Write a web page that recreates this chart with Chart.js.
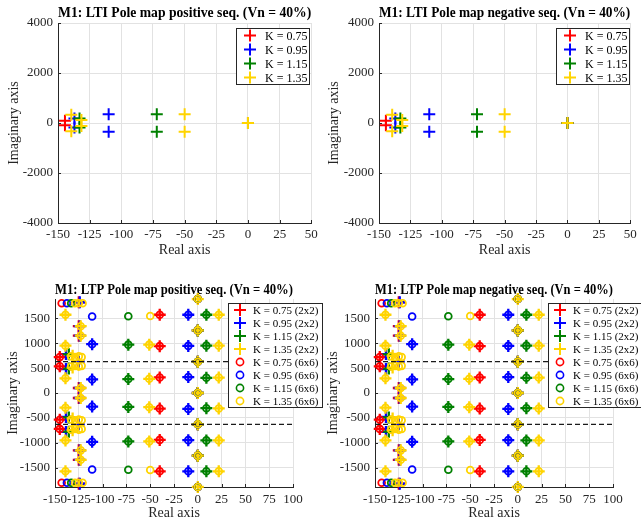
<!DOCTYPE html>
<html>
<head>
<meta charset="utf-8">
<script src="https://cdn.jsdelivr.net/npm/chart.js@4.4.1/dist/chart.umd.min.js"></script>
<style>
  html, body { margin: 0; padding: 0; background: #fff; }
  body { width: 641px; height: 522px; position: relative; overflow: hidden; }
  canvas { position: absolute; }
</style>
</head>
<body>
<canvas id="ltiPos" style="left:0;top:0" width="322" height="260"></canvas>
<canvas id="ltiNeg" style="left:320px;top:0" width="321" height="260"></canvas>
<canvas id="ltpPos" style="left:0;top:262px" width="330" height="260"></canvas>
<canvas id="ltpNeg" style="left:320px;top:262px" width="321" height="260"></canvas>
<script>
// gains and marker colours
const gains = ['0.75', '0.95', '1.15', '1.35'];
const gainColors = ['#ff0000', '#0000ff', '#008000', '#ffd400'];

// axis ticks
const ltiXTicks = [-150, -125, -100, -75, -50, -25, 0, 25, 50];
const ltiYTicks = [-4000, -2000, 0, 2000, 4000];
const ltpXTicks = [-150, -125, -100, -75, -50, -25, 0, 25, 50, 75, 100];
const ltpYTicks = [-1500, -1000, -500, 0, 500, 1000, 1500];

// LTI poles [real, imag] per gain
const ltiK075 = [[-144.5, 90], [-144.5, -90], [0, 0]];
const ltiK095 = [[-137, 180], [-137, -180], [-110, 350], [-110, -350], [0, 0]];
const ltiK115 = [[-133, 180], [-133, -180], [-72, 350], [-72, -350], [0, 0]];
const ltiK135 = [[-139.5, 330], [-139.5, -330], [-131.5, 120], [-131.5, -120],
                 [-50, 350], [-50, -350], [0, 0]];

// LTP poles, 2x2 harmonic model
const ltp2K075 = [
  [-145, 720], [-145, 535], [-145, -535], [-145, -720],
  [-125, 1820], [-125, 1340], [-125, 1150], [-126, 628], [-125, 100],
  [-125, -100], [-126, -628], [-125, -1150], [-125, -1340], [-125, -1820],
  [-40, 1570], [-40, 940], [-40, 312], [-40, -312], [-40, -940], [-40, -1570],
  [0, 1256], [0, 628], [0, 0], [0, -628], [0, -1256]
];
const ltp2K095 = [
  [-138.5, 780], [-138.5, 480], [-138.5, -480], [-138.5, -780],
  [-124, 1820], [-124, 1340], [-124, 1150], [-125, 628], [-124, 100],
  [-124, -100], [-125, -628], [-124, -1150], [-124, -1340], [-124, -1820],
  [-111, 980], [-111, 272], [-111, -272], [-111, -980],
  [-10, 1570], [-10, 945], [-10, 320], [-10, -320], [-10, -945], [-10, -1570],
  [0, 1256], [0, 628], [0, 0], [0, -628], [0, -1256]
];
const ltp2K115 = [
  [-135.5, 775], [-135.5, 490], [-135.5, -490], [-135.5, -775],
  [-73, 970], [-73, 280], [-73, -280], [-73, -970],
  [9, 1570], [9, 950], [9, 305], [9, -305], [9, -950], [9, -1570],
  [0, 1256], [0, 628], [0, 0], [0, -628], [0, -1256]
];
const ltp2K135 = [
  [-139, 1570], [-139, 950], [-139, 295], [-139, -295], [-139, -950], [-139, -1570],
  [-131.5, 745], [-131.5, 510], [-131.5, -510], [-131.5, -745],
  [-123, 1340], [-123, 1150], [-123, 100], [-123, -100], [-123, -1150], [-123, -1340],
  [-51, 970], [-51, 285], [-51, -285], [-51, -970],
  [22, 1570], [22, 950], [22, 310], [22, -310], [22, -950], [22, -1570],
  [0, 1884], [0, 1256], [0, 628], [0, 0], [0, -628], [0, -1256], [0, -1884]
];

// LTP poles, 6x6 harmonic model
const ltp6K075 = [
  [-143, 1800], [-143, -1800],
  [-145, 720], [-145, 535], [-145, -535], [-145, -720],
  [-40, 1570], [-40, 940], [-40, 312], [-40, -312], [-40, -940], [-40, -1570],
  [0, 1884], [0, 1256], [0, 628], [0, 0], [0, -628], [0, -1256], [0, -1884]
];
const ltp6K095 = [
  [-137.5, 1800], [-137.5, -1800],
  [-111, 1535], [-111, 980], [-111, 272], [-111, -272], [-111, -980], [-111, -1535],
  [-10, 1570], [-10, 945], [-10, 320], [-10, -320], [-10, -945], [-10, -1570],
  [0, 1884], [0, 1256], [0, 628], [0, 0], [0, -628], [0, -1256], [0, -1884]
];
const ltp6K115 = [
  [-133, 1800], [-133, -1800],
  [-73, 1540], [-73, 970], [-73, 280], [-73, -280], [-73, -970], [-73, -1540],
  [9, 1570], [9, 950], [9, 305], [9, -305], [9, -950], [9, -1570],
  [0, 1884], [0, 1256], [0, 628], [0, 0], [0, -628], [0, -1256], [0, -1884]
];
const ltp6K135 = [
  [-129, 1800], [-125, 1800], [-121, 1800], [-129, -1800], [-125, -1800], [-121, -1800],
  [-139, 1570], [-139, 950], [-139, 295], [-139, -295], [-139, -950], [-139, -1570],
  [-133, 735], [-129, 720], [-125, 735], [-122, 720],
  [-133, 530], [-129, 545], [-125, 530], [-122, 545],
  [-133, -530], [-129, -545], [-125, -530], [-122, -545],
  [-133, -735], [-129, -720], [-125, -735], [-122, -720],
  [-123, 1340], [-123, 1150], [-123, 100], [-123, -100], [-123, -1150], [-123, -1340],
  [-50, 1545], [-51, 970], [-51, 285], [-51, -285], [-51, -970], [-50, -1545],
  [22, 1570], [22, 950], [22, 310], [22, -310], [22, -950], [22, -1570],
  [0, 1884], [0, 1256], [0, 628], [0, 0], [0, -628], [0, -1256], [0, -1884]
];

// supply frequency lines (rad/s)
const omegaLines = [628.3, -628.3];

const ltiSets = [ltiK075, ltiK095, ltiK115, ltiK135];
const ltp2Sets = [ltp2K075, ltp2K095, ltp2K115, ltp2K135];
const ltp6Sets = [ltp6K075, ltp6K095, ltp6K115, ltp6K135];

const SERIF = "'Liberation Serif', 'Times New Roman', serif";
const AXIS_COLOR = '#262626';
Chart.defaults.font.family = SERIF;
Chart.defaults.color = AXIS_COLOR;

const toXY = pts => pts.map(p => ({ x: p[0], y: p[1] }));

// MATLAB-like inward tick marks on the left and bottom axes
const innerTicks = {
  id: 'innerTicks',
  beforeDatasetsDraw(chart) {
    const { ctx, chartArea: a, scales: { x, y } } = chart;
    ctx.save();
    ctx.strokeStyle = AXIS_COLOR;
    ctx.lineWidth = 1;
    ctx.beginPath();
    x.ticks.forEach(t => {
      const px = Math.round(x.getPixelForValue(t.value)) + 0.5;
      ctx.moveTo(px, a.bottom);
      ctx.lineTo(px, a.bottom - 3);
    });
    y.ticks.forEach(t => {
      const py = Math.round(y.getPixelForValue(t.value)) + 0.5;
      ctx.moveTo(a.left, py);
      ctx.lineTo(a.left + 3, py);
    });
    ctx.stroke();
    ctx.restore();
  }
};

// boxed legend placed inside / over the plot
const boxLegend = {
  id: 'boxLegend',
  afterDraw(chart, args, o) {
    if (!o || !o.items) return;
    const ctx = chart.ctx;
    ctx.save();
    ctx.fillStyle = '#fff';
    ctx.fillRect(o.x, o.y, o.w, o.h);
    ctx.strokeStyle = AXIS_COLOR;
    ctx.lineWidth = 1;
    ctx.strokeRect(o.x + 0.5, o.y + 0.5, o.w, o.h);
    ctx.font = o.fontSize + 'px ' + SERIF;
    ctx.textBaseline = 'middle';
    o.items.forEach((it, i) => {
      const cy = o.y + o.rowH * (i + 0.5) + 0.5;
      ctx.strokeStyle = it.color;
      ctx.fillStyle = 'rgba(0,0,0,0)';
      ctx.lineWidth = it.lw;
      Chart.helpers.drawPoint(ctx, { pointStyle: it.style, radius: it.r, rotation: 0, borderWidth: it.lw },
        o.x + o.markerDx, cy);
      ctx.fillStyle = '#000';
      ctx.fillText(it.label, o.x + o.textDx, cy + 1);
    });
    ctx.restore();
  }
};

function crossSet(label, pts, color, r, lw, order) {
  return {
    label, data: toXY(pts), pointStyle: 'cross', pointRadius: r, pointBorderWidth: lw,
    borderColor: color, backgroundColor: color, showLine: false, clip: false, order
  };
}
function ringSet(label, pts, color, order) {
  return {
    label, data: toXY(pts), pointStyle: 'circle', pointRadius: 3.4, pointBorderWidth: 1.8,
    borderColor: color, backgroundColor: 'rgba(0,0,0,0)', showLine: false, clip: false, order
  };
}

function poleChart(id, c) {
  return new Chart(document.getElementById(id), {
    type: 'scatter',
    data: { datasets: c.datasets },
    options: {
      responsive: false,
      animation: false,
      events: [],
      layout: { padding: { left: 0, top: 0, bottom: 0, right: c.padRight } },
      plugins: {
        legend: { display: false },
        tooltip: { enabled: false },
        title: {
          display: true, text: c.title, fullSize: false, color: '#000',
          font: { size: c.titleSize, weight: 'bold' }, padding: c.titlePad
        },
        boxLegend: c.legend
      },
      scales: {
        x: {
          type: 'linear', min: c.xRange[0], max: c.xRange[1],
          afterBuildTicks: s => { s.ticks = c.xTicks.map(v => ({ value: v })); },
          afterFit: s => { s.height = c.xAxisH; },
          ticks: {
            padding: c.xTickPad, autoSkip: false, maxRotation: 0,
            font: { size: 13 }, color: AXIS_COLOR, callback: v => String(v)
          },
          grid: { color: '#e2e2e2', drawTicks: false },
          border: { color: AXIS_COLOR, width: 1 },
          title: { display: true, text: 'Real axis', font: { size: 14 }, color: AXIS_COLOR,
                   padding: { top: 0, bottom: c.xTitlePad } }
        },
        y: {
          type: 'linear', min: c.yRange[0], max: c.yRange[1],
          afterBuildTicks: s => { s.ticks = c.yTicks.map(v => ({ value: v })); },
          afterFit: s => { s.width = c.yAxisW; },
          ticks: {
            padding: 5, autoSkip: false,
            font: { size: 13 }, color: AXIS_COLOR, callback: v => String(v)
          },
          grid: { color: '#e2e2e2', drawTicks: false },
          border: { color: AXIS_COLOR, width: 1 },
          title: { display: true, text: 'Imaginary axis', font: { size: 14 }, color: AXIS_COLOR,
                   padding: { top: c.yTitlePad, bottom: 0 } }
        }
      }
    },
    plugins: [innerTicks, boxLegend]
  });
}

// ---- LTI maps ----
function ltiDatasets() {
  return ltiSets.map((pts, i) => crossSet('K = ' + gains[i], pts, gainColors[i], 6, 2, 10 - i));
}
function ltiLegend(x) {
  return {
    x, y: 28, w: 73, h: 56, rowH: 14, markerDx: 14, textDx: 29, fontSize: 12,
    items: gains.map((g, i) => ({ label: 'K = ' + g, color: gainColors[i], style: 'cross', r: 6, lw: 2 }))
  };
}
const ltiCommon = {
  xRange: [-150, 50], yRange: [-4000, 4000], xTicks: ltiXTicks, yTicks: ltiYTicks,
  titleSize: 14, titlePad: { top: 5.1, bottom: 1.1 }, xAxisH: 37, xTickPad: 4.2, xTitlePad: 1.6
};
poleChart('ltiPos', Object.assign({}, ltiCommon, {
  title: 'M1: LTI Pole map positive seq. (Vn = 40%)', datasets: ltiDatasets(),
  padRight: 7, yAxisW: 58, yTitlePad: 5.6, legend: ltiLegend(236)
}));
poleChart('ltiNeg', Object.assign({}, ltiCommon, {
  title: 'M1: LTI Pole map negative seq. (Vn = 40%)', datasets: ltiDatasets(),
  padRight: 6, yAxisW: 59, yTitlePad: 6.2, legend: ltiLegend(236)
}));

// ---- LTP maps ----
const ltpRange = [-150, 100];
function ltpDatasets() {
  const sets = [];
  ltp2Sets.forEach((pts, i) => sets.push(crossSet('K = ' + gains[i] + ' (2x2)', pts, gainColors[i], 6, 2.3, 20 - i)));
  ltp6Sets.forEach((pts, i) => sets.push(ringSet('K = ' + gains[i] + ' (6x6)', pts, gainColors[i], 10 - i)));
  omegaLines.forEach(w => sets.push({
    data: [{ x: ltpRange[0], y: w }, { x: ltpRange[1], y: w }],
    type: 'line', showLine: true, pointRadius: 0, borderColor: '#1a1a1a', borderWidth: 1.2,
    borderDash: [5, 3], order: 0
  }));
  return sets;
}
function ltpLegend(x) {
  const items = [];
  gains.forEach((g, i) => items.push({ label: 'K = ' + g + ' (2x2)', color: gainColors[i], style: 'cross', r: 6, lw: 2 }));
  gains.forEach((g, i) => items.push({ label: 'K = ' + g + ' (6x6)', color: gainColors[i], style: 'circle', r: 3.6, lw: 1.6 }));
  return { x, y: 41, w: 94, h: 104, rowH: 13, markerDx: 12, textDx: 25, fontSize: 11, items };
}
const ltpCommon = {
  xRange: ltpRange, yRange: [-1885, 1885], xTicks: ltpXTicks, yTicks: ltpYTicks,
  titleSize: 13.6, titlePad: { top: 20.7, bottom: 0 }, xAxisH: 35, xTickPad: 5.2, xTitlePad: 0.6,
  yAxisW: 55, yTitlePad: 4.6
};
poleChart('ltpPos', Object.assign({}, ltpCommon, {
  title: 'M1: LTP Pole map positive seq. (Vn = 40%)', datasets: ltpDatasets(),
  padRight: 37, legend: ltpLegend(228)
}));
poleChart('ltpNeg', Object.assign({}, ltpCommon, {
  title: 'M1: LTP Pole map negative seq. (Vn = 40%)', datasets: ltpDatasets(),
  padRight: 28, legend: ltpLegend(228)
}));
</script>
</body>
</html>
